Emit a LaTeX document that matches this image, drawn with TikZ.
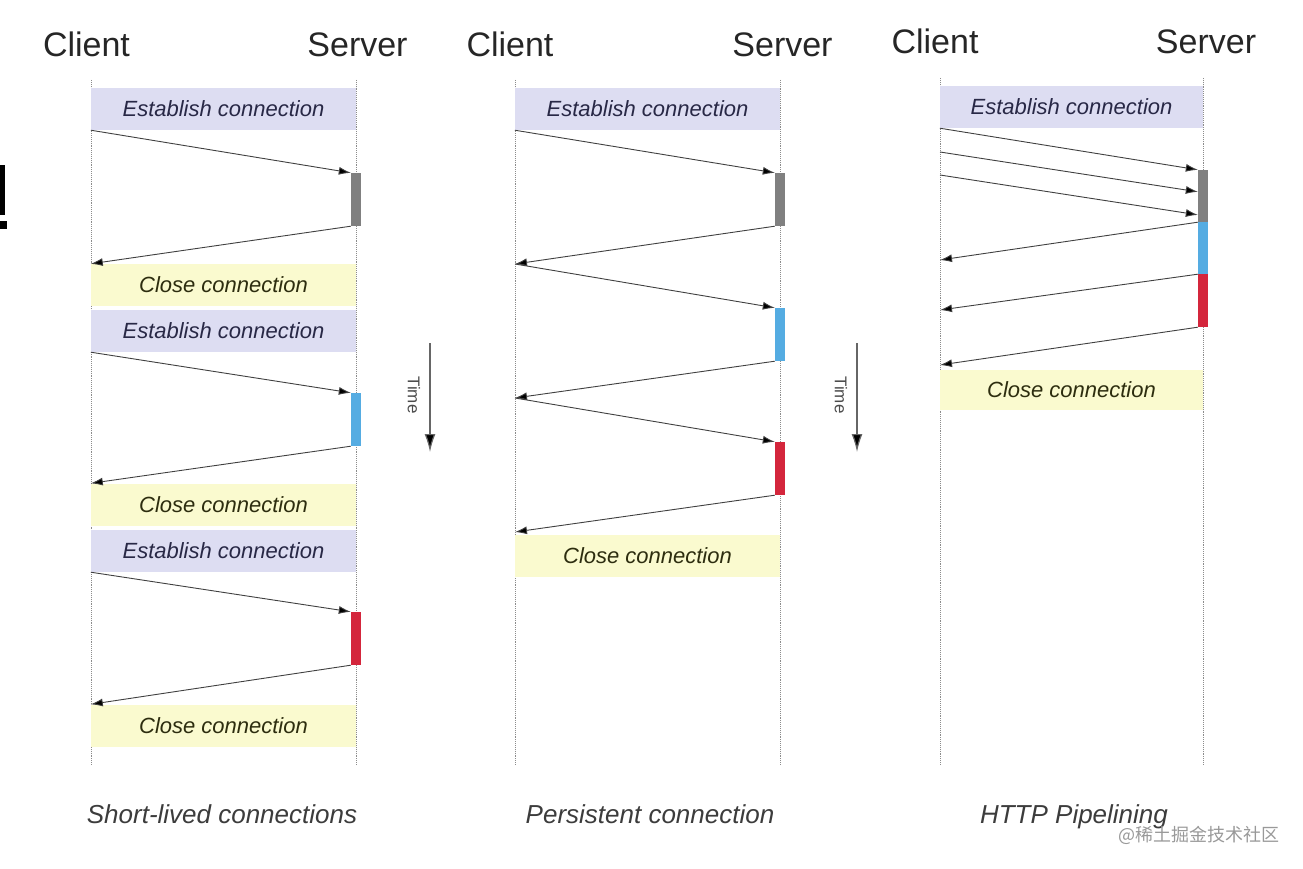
\documentclass[tikz,border=0pt]{standalone}
\usepackage{fontspec}
\setmainfont{Liberation Sans}
\newfontfamily\cjk{Noto Sans CJK SC}
\usetikzlibrary{arrows.meta,positioning,calc}
\definecolor{estFill}{RGB}{221,221,242}
\definecolor{closeFill}{RGB}{250,250,207}
\definecolor{estText}{RGB}{40,40,70}
\definecolor{closeText}{RGB}{45,45,15}
\definecolor{barGray}{RGB}{128,128,128}
\definecolor{barBlue}{RGB}{85,172,226}
\definecolor{barRed}{RGB}{212,38,60}
\definecolor{lifeGray}{RGB}{140,140,140}
\definecolor{capText}{RGB}{60,60,60}

\tikzset{
  head/.style={font=\fontsize{34}{34}\selectfont, text=black!85, anchor=base, inner sep=0pt},
  estbox/.style={fill=estFill, text=estText, font=\fontsize{22}{22}\selectfont\itshape, minimum width=265pt, minimum height=42pt, inner sep=0pt},
  closebox/.style={estbox, fill=closeFill, text=closeText},
  bar/.style={minimum width=10pt, minimum height=53pt, inner sep=0pt},
  msg/.style={-{Latex[length=12pt,width=8pt,fill=black]}, draw=black!75, line width=0.9pt},
  life/.style={draw=lifeGray, densely dotted, line width=0.9pt},
  caption/.style={font=\fontsize{26}{26}\selectfont\itshape, text=capText, anchor=base, inner sep=0pt},
  timearrow/.style={-{Latex[length=18pt,width=11pt,fill=black]}, draw=black!60, line width=1.2pt},
  timelabel/.style={font=\fontsize{17}{17}\selectfont, text=black!70, rotate=-90, inner sep=0pt}
}

\begin{document}
\begin{tikzpicture}[x=1pt, y=-1pt]
\useasboundingbox (0,0) rectangle (1303,869);
\fill[black] (0,165) rectangle (5,215);
\fill[black] (0,221) rectangle (7,229);
%============ short-lived connections
\node[head] (C1) at (86.5,57) {Client};
\node[head] (S1) at (357.5,57) {Server};
\draw[life] (91,80) -- (91,765);
\draw[life] (356,80) -- (356,765);
\node[estbox] (E1) at (223.5,109) {Establish connection};
\node[bar, fill=barGray] (G1) at (356,199.5) {};
\node[closebox] (K1) at (223.5,285) {Close connection};
\node[estbox] (E2) at (223.5,331) {Establish connection};
\node[bar, fill=barBlue] (B1) at (356,419.5) {};
\node[closebox] (K2) at (223.5,504.5) {Close connection};
\node[estbox] (E3) at (223.5,551) {Establish connection};
\node[bar, fill=barRed] (R1) at (356,638.5) {};
\node[closebox] (K3) at (223.5,725.5) {Close connection};
\node[caption] (T1) at (222,823) {Short-lived connections};

\draw[msg] (E1.south west) -- (G1.north west);
\draw[msg] (G1.south west) -- (K1.north west);
\draw[msg] (E2.south west) -- (B1.north west);
\draw[msg] (B1.south west) -- (K2.north west);
\draw[msg] (E3.south west) -- (R1.north west);
\draw[msg] (R1.south west) -- (K3.north west);

\coordinate (timeA1) at (430,343);
\coordinate (timeB1) at (430,452);
\draw[timearrow] (timeA1) -- (timeB1);
\node[timelabel] (L1) at (414,395) {Time};
%============ persistent connection
\node[head] (C2) at (510,57) {Client};
\node[head] (S2) at (782.5,57) {Server};
\draw[life] (515,80) -- (515,765);
\draw[life] (780,80) -- (780,765);
\node[estbox] (E4) at (647.5,109) {Establish connection};
\node[bar, fill=barGray] (G2) at (780,199.5) {};
\coordinate (p1) at (515,264);
\node[bar, fill=barBlue] (B2) at (780,334.5) {};
\coordinate (p2) at (515,398);
\node[bar, fill=barRed] (R2) at (780,468.5) {};
\coordinate (p3) at (515,532);
\node[closebox] (K4) at (647.5,556) {Close connection};
\node[caption] (T2) at (650,823) {Persistent connection};

\draw[msg] (E4.south west) -- (G2.north west);
\draw[msg] (G2.south west) -- (p1);
\draw[msg] (p1) -- (B2.north west);
\draw[msg] (B2.south west) -- (p2);
\draw[msg] (p2) -- (R2.north west);
\draw[msg] (R2.south west) -- (p3);

\coordinate (timeA2) at (857,343);
\coordinate (timeB2) at (857,452);
\draw[timearrow] (timeA2) -- (timeB2);
\node[timelabel] (L2) at (841,395) {Time};
%============ HTTP pipelining
\node[head] (C3) at (935,54) {Client};
\node[head] (S3) at (1206,54) {Server};
\draw[life] (940,78) -- (940,765);
\draw[life] (1203,78) -- (1203,765);
\node[estbox, minimum width=263pt] (E5) at (1071.5,107) {Establish connection};
\node[bar, fill=barGray, minimum height=52pt] (G3) at (1203,196) {};
\node[bar, fill=barBlue, minimum height=52pt] (B3) at (1203,248) {};
\node[bar, fill=barRed, minimum height=53pt] (R3) at (1203,300.5) {};
\node[closebox, minimum width=263pt, minimum height=40pt] (K5) at (1071.5,390) {Close connection};
\node[caption] (T3) at (1074,823) {HTTP Pipelining};
\coordinate (q1) at (940,152);
\coordinate (q2) at (940,175);
\coordinate (q3) at (940,260);
\coordinate (q4) at (940,310);
\coordinate (q5) at (940,365);

\draw[msg] (E5.south west) -- (G3.north west);
\draw[msg] (q1) -- ($(G3.north west)!0.42!(G3.south west)$);
\draw[msg] (q2) -- ($(G3.north west)!0.86!(G3.south west)$);
\draw[msg] (G3.south west) -- (q3);
\draw[msg] (B3.south west) -- (q4);
\draw[msg] (R3.south west) -- (q5);

\node[font=\cjk\fontsize{18}{18}\selectfont, text=black!40, inner sep=0pt] (W) at (1199,835) {@稀土掘金技术社区};
\end{tikzpicture}
\end{document}
